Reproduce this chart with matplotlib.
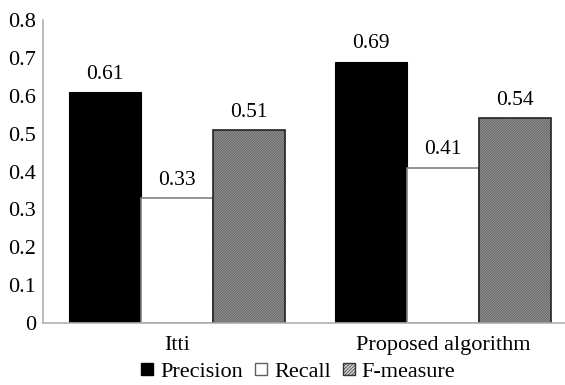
import numpy as np
import matplotlib.pyplot as plt
from matplotlib.patches import Patch

plt.rcParams['font.family'] = ['Liberation Serif', 'DejaVu Serif']
plt.rcParams['hatch.linewidth'] = 0.5

methods = ['Itti', 'Proposed algorithm']
precision = [0.61, 0.69]
recall = [0.33, 0.41]
f_measure = [0.51, 0.54]

fig = plt.figure(figsize=(5.65, 3.85), dpi=100)
ax = fig.add_axes([0.0761, 0.161, 0.924, 0.787])

x = np.arange(len(methods))
w = 0.27
dense = '/' * 20

b1 = ax.bar(x - w, precision, w, color='black', edgecolor='black', linewidth=0.8)
b2 = ax.bar(x, recall, w, color='white', edgecolor='#808080', linewidth=1.2)
# hatched fill, then a black outline on top
ax.bar(x + w, f_measure, w, color='#d4d4d4', edgecolor='#404040', hatch=dense, linewidth=0)
b3 = ax.bar(x + w, f_measure, w, fill=False, edgecolor='#222222', linewidth=1.2)

for bars, vals in [(b1, precision), (b2, recall), (b3, f_measure)]:
    for rect, v in zip(bars, vals):
        ax.annotate(f'{v:.2f}', (rect.get_x() + rect.get_width() / 2, v),
                    xytext=(0, 6), textcoords='offset points',
                    ha='center', va='bottom', fontsize=15.5)

ax.set_xlim(-0.504, 1.459)
ax.set_ylim(0, 0.8)
ax.set_yticks(np.arange(0, 0.81, 0.1))
ax.set_yticklabels(['0'] + [f'{t:.1f}' for t in np.arange(0.1, 0.81, 0.1)])
ax.set_xticks(x)
ax.set_xticklabels(methods)
ax.tick_params(axis='both', length=0, labelsize=16)
ax.tick_params(axis='x', pad=9)
ax.tick_params(axis='y', pad=5)

for s in ['top', 'right']:
    ax.spines[s].set_visible(False)
for s in ['left', 'bottom']:
    ax.spines[s].set_color('#b0b0b0')
    ax.spines[s].set_linewidth(1.2)

handles = [
    Patch(facecolor='black', edgecolor='black'),
    Patch(facecolor='white', edgecolor='#606060'),
    Patch(facecolor='#d4d4d4', edgecolor='#333333', hatch='/' * 10),
]
fig.legend(handles, ['Precision', 'Recall', 'F-measure'], loc='center',
           bbox_to_anchor=(0.528, 0.033), ncol=3, frameon=False, fontsize=16,
           handlelength=0.55, handleheight=0.45, handletextpad=0.3,
           columnspacing=0.55)

fig.savefig('out.png', dpi=100)
